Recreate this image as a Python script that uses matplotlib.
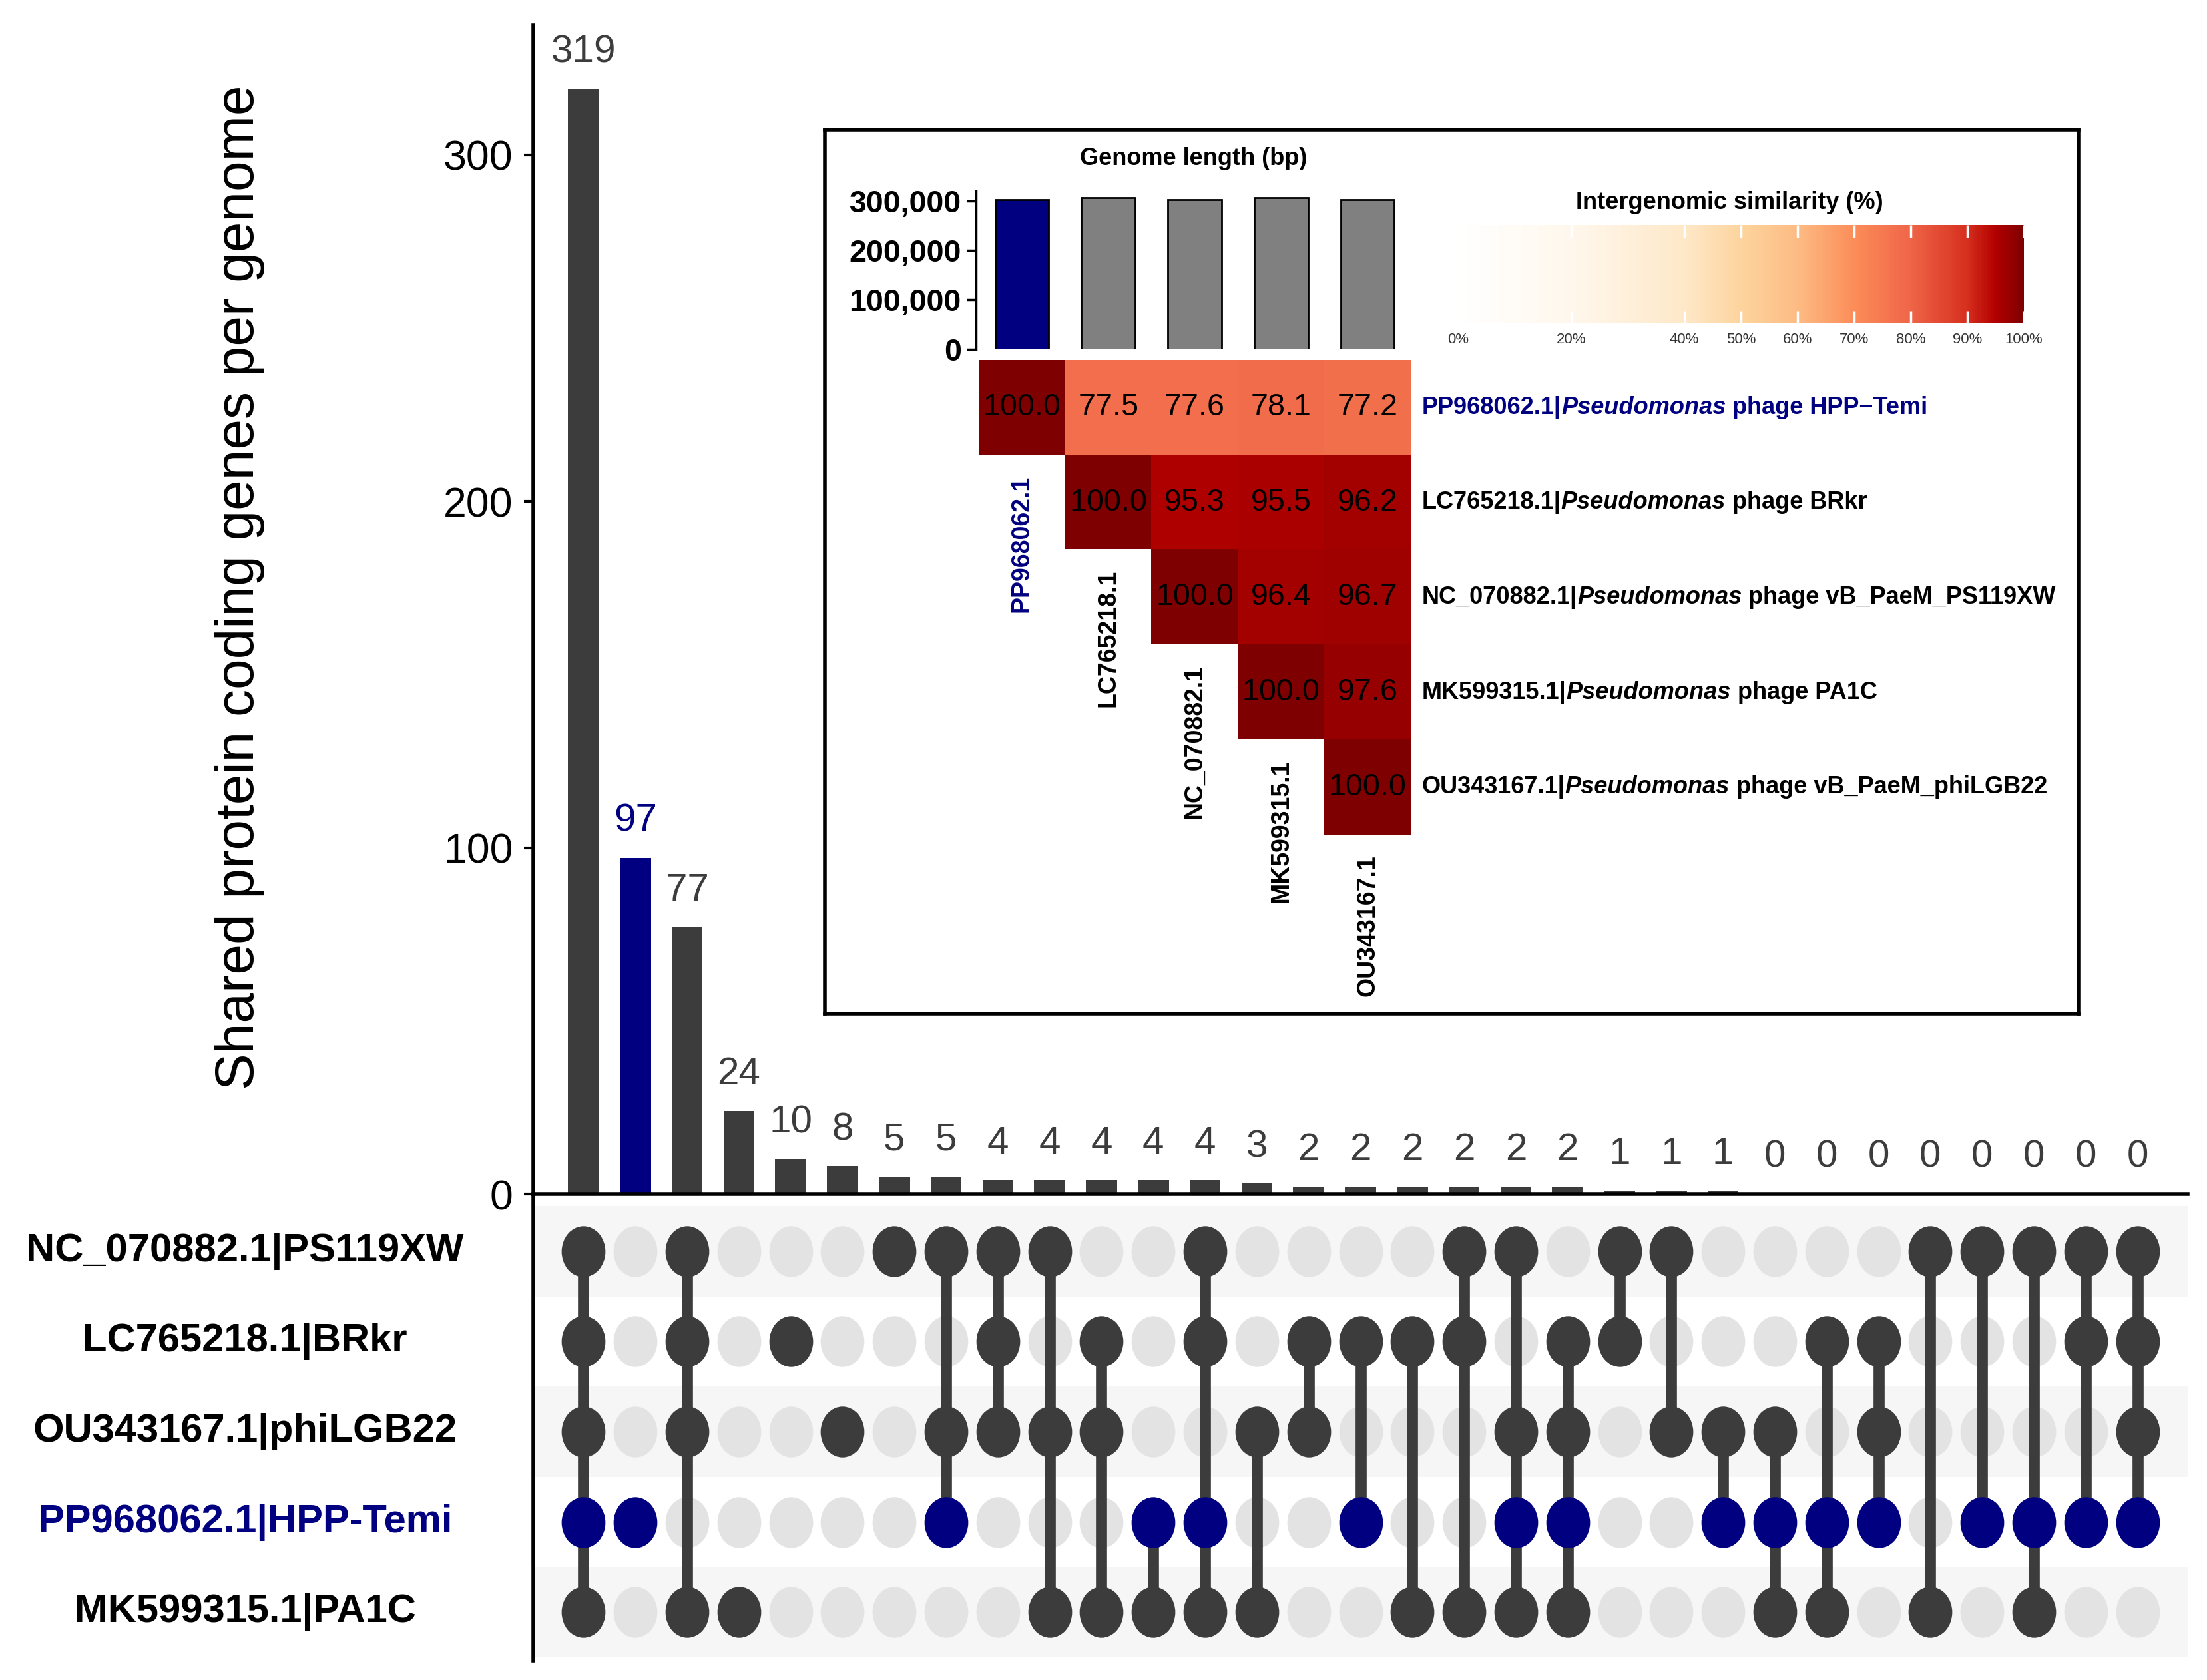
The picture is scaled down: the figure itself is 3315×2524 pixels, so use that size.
import numpy as np
import matplotlib
matplotlib.use('Agg')
import matplotlib.pyplot as plt
from matplotlib import font_manager
from matplotlib.path import Path
from matplotlib.transforms import Affine2D
from matplotlib.colors import LinearSegmentedColormap, Normalize
from matplotlib.cm import ScalarMappable

# ---------------- data ----------------
# rows of the dot matrix (top to bottom)
genomes = ['NC_070882.1|PS119XW', 'LC765218.1|BRkr', 'OU343167.1|phiLGB22',
           'PP968062.1|HPP-Temi', 'MK599315.1|PA1C']
focus_row = 3  # PP968062.1 is highlighted

counts = [319, 97, 77, 24, 10, 8, 5, 5, 4, 4, 4, 4, 4, 3, 2, 2, 2, 2, 2, 2,
          1, 1, 1, 0, 0, 0, 0, 0, 0, 0, 0]
# members of each intersection (row indices into genomes)
members = [[0, 1, 2, 3, 4], [3], [0, 1, 2, 4], [4], [1], [2], [0], [0, 2, 3],
           [0, 1, 2], [0, 2, 4], [1, 2, 4], [3, 4], [0, 1, 3, 4], [2, 4],
           [1, 2], [1, 3], [1, 4], [0, 1, 4], [0, 2, 3, 4], [1, 2, 3, 4],
           [0, 1], [0, 2], [2, 3],
           [2, 3, 4], [1, 3, 4], [1, 2, 3], [0, 4], [0, 3], [0, 3, 4],
           [0, 1, 3], [0, 1, 2, 3]]

# inset: genome lengths + intergenomic similarity
acc = ['PP968062.1', 'LC765218.1', 'NC_070882.1', 'MK599315.1', 'OU343167.1']
genome_len = [302000, 306000, 302000, 306000, 302000]
phage_names = [' phage HPP\u2212Temi', ' phage BRkr', ' phage vB_PaeM_PS119XW',
               ' phage PA1C', ' phage vB_PaeM_phiLGB22']
sim = np.array([[100.0, 77.5, 77.6, 78.1, 77.2],
                [np.nan, 100.0, 95.3, 95.5, 96.2],
                [np.nan, np.nan, 100.0, 96.4, 96.7],
                [np.nan, np.nan, np.nan, 100.0, 97.6],
                [np.nan, np.nan, np.nan, np.nan, 100.0]])
cbar_ticks = [0, 20, 40, 50, 60, 70, 80, 90, 100]

# ---------------- style ----------------
navy = '#000080'
dark = '#3C3C3C'
plt.rcParams['font.family'] = 'Liberation Sans'

names = {f.name for f in font_manager.fontManager.ttflist}
NARROW = 'Liberation Sans Narrow' if 'Liberation Sans Narrow' in names else 'Liberation Sans'
nf = 1.0 if NARROW == 'Liberation Sans Narrow' else 0.84

W, H = 3315, 2524
fig = plt.figure(figsize=(W / 100, H / 100), dpi=100)

def fx(px):
    return px / W

def fy(py):
    return 1 - py / H

n = len(counts)
xl = (-0.97, n - 1 + 0.97)

# ---------------- bars ----------------
base_y = 1794
ax = fig.add_axes([fx(801), fy(base_y), fx(3286 - 801), (base_y - 38) / H])
bar_cols = [navy if m == [focus_row] else dark for m in members]
ax.bar(range(n), counts, width=0.6, color=bar_cols)
for i, c in enumerate(counts):
    ax.annotate(str(c), (i, c), xytext=(0, 29), textcoords='offset points',
                ha='center', va='baseline', fontsize=42,
                color=navy if members[i] == [focus_row] else dark)
ax.set_xlim(xl)
ax.set_ylim(0, 337.4)
ax.set_yticks([0, 100, 200, 300])
ax.set_xticks([])
ax.tick_params(axis='y', labelsize=45, length=10, width=3, pad=12)
for s in ['top', 'right']:
    ax.spines[s].set_visible(False)
ax.spines['left'].set_linewidth(4)
ax.spines['bottom'].set_linewidth(4)
fig.text(fx(360), fy(882), 'Shared protein coding genes per genome',
         rotation=90, ha='center', va='center', fontsize=59)

# ---------------- dot matrix ----------------
axm = fig.add_axes([fx(801), fy(2495), fx(3286 - 801), (2495 - 1798) / H])
axm.set_xlim(xl)
axm.set_ylim(4.537, -0.603)
for r in range(len(genomes)):
    if r % 2 == 0:
        axm.axhspan(r - 0.5, r + 0.5, color='#F6F6F6', zorder=0, lw=0)
ell = Path.unit_circle().transformed(Affine2D().scale(0.86, 1.0))
ms = 55
for i, m in enumerate(members):
    for r in range(len(genomes)):
        if r not in m:
            axm.plot(i, r, marker=ell, ms=ms, color='#E3E3E3', mew=0, zorder=2)
    if len(m) > 1:
        axm.plot([i, i], [min(m), max(m)], color=dark, lw=12, zorder=3,
                 solid_capstyle='butt')
    for r in m:
        axm.plot(i, r, marker=ell, ms=ms, color=navy if r == focus_row else dark,
                 mew=0, zorder=4)
axm.set_xticks([])
axm.set_yticks([])
for s in ['top', 'right', 'bottom']:
    axm.spines[s].set_visible(False)
axm.spines['left'].set_linewidth(4)
lab_x = (368 - 801) / (3286 - 801)
for r, g in enumerate(genomes):
    axm.text(lab_x, r, g, transform=axm.get_yaxis_transform(), ha='center',
             va='center', fontsize=43, fontweight='bold',
             color=navy if r == focus_row else 'black')

# ---------------- inset box ----------------
box = fig.add_axes([fx(1239), fy(1523), fx(3122 - 1239), (1523 - 195) / H])
box.set_xticks([])
box.set_yticks([])
for s in box.spines.values():
    s.set_linewidth(4)

# genome length bars
axg = fig.add_axes([fx(1466), fy(524.5), fx(2119 - 1466), (524.5 - 287) / H])
axg.patch.set_alpha(0)
axg.bar(range(5), genome_len, width=0.62, color=[navy] + ['#808080'] * 4,
        edgecolor='black', linewidth=2)
axg.set_xlim(-0.53, 4.5)
axg.set_ylim(0, 320000)
axg.set_xticks([])
axg.set_yticks([0, 100000, 200000, 300000])
axg.set_yticklabels(['0', '100,000', '200,000', '300,000'])
axg.tick_params(axis='y', length=10, width=2.5, pad=6)
for lab in axg.get_yticklabels():
    lab.set_family(NARROW)
    lab.set_fontweight('bold')
    lab.set_fontsize(40 * nf)
for s in ['top', 'right', 'bottom']:
    axg.spines[s].set_visible(False)
axg.spines['left'].set_linewidth(2.5)
fig.text(fx(1793), fy(239), 'Genome length (bp)', ha='center', va='center',
         fontsize=31 * nf, fontweight='bold', family=NARROW)

# similarity heatmap
stops = [0, .2, .4, .5, .6, .7, .8, .9, .95, 1.0]
cols = ['#FFFFFF', '#FFF7EC', '#FEE8C8', '#FDD49E', '#FDBB84', '#FC8D59',
        '#EF6548', '#D7301F', '#B30000', '#7F0000']
cmap = LinearSegmentedColormap.from_list('igs', list(zip(stops, cols)))
norm = Normalize(0, 100)

axh = fig.add_axes([fx(1470), fy(1254), fx(2119 - 1470), (1254 - 541) / H])
axh.imshow(sim, cmap=cmap, norm=norm, aspect='auto', interpolation='nearest')
axh.set_xlim(-0.5, 4.5)
axh.set_ylim(4.5, -0.5)
axh.axis('off')
for i in range(5):
    for j in range(i, 5):
        axh.text(j, i, f'{sim[i, j]:.1f}', ha='center', va='center',
                 fontsize=40 * nf, family=NARROW, color='black')
    # rotated accession under the diagonal
    axh.text(i, i + 0.71, acc[i], rotation=90, ha='center', va='top',
             fontsize=27, fontweight='bold', color=navy if i == 0 else 'black',
             clip_on=False)
    # label on the right side, italic genus
    col = navy if i == 0 else 'black'
    t1 = axh.text(4.63, i, acc[i] + '|', ha='left', va='center', fontsize=31 * nf,
                  fontweight='bold', family=NARROW, color=col, clip_on=False)
    t2 = axh.annotate('Pseudomonas', xy=(1, 0), xycoords=t1, ha='left', va='bottom',
                      fontsize=31 * nf, fontweight='bold', style='italic',
                      family=NARROW, color=col)
    axh.annotate(phage_names[i], xy=(1, 0), xycoords=t2, ha='left', va='bottom',
                 fontsize=31 * nf, fontweight='bold', family=NARROW, color=col)

# colour bar
cax = fig.add_axes([fx(2190), fy(486), fx(3040 - 2190), (486 - 338) / H])
cb = fig.colorbar(ScalarMappable(norm=norm, cmap=cmap), cax=cax,
                  orientation='horizontal')
cb.outline.set_visible(False)
cb.set_ticks(cbar_ticks)
cb.set_ticklabels([f'{t}%' for t in cbar_ticks])
cax.tick_params(axis='x', direction='in', color='white', length=14, width=2.5,
                top=True, bottom=True, labelcolor='#333333', pad=10)
for lab in cax.get_xticklabels():
    lab.set_family(NARROW)
    lab.set_fontsize(19 * nf)
fig.text(fx(2598), fy(305), 'Intergenomic similarity (%)', ha='center',
         va='center', fontsize=31 * nf, fontweight='bold', family=NARROW)

fig.savefig('out.png', dpi=100)
